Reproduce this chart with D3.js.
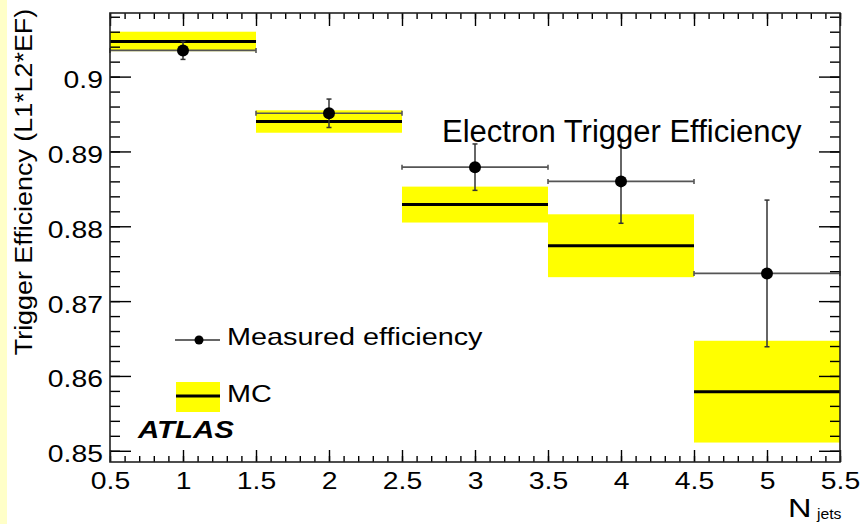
<!DOCTYPE html>
<html lang="en">
<head>
<meta charset="utf-8">
<title>Electron Trigger Efficiency</title>
<script src="https://d3js.org/d3.v7.min.js"></script>
<style type="text/css">
  html, body {
    margin: 0px;
    padding: 0px;
    background: #fff;
  }
  svg { display: block; }
  text {
    font-family: "Liberation Sans", Arial, sans-serif;
    fill: #000;
  }
</style>
</head>
<body>
<svg width="862" height="524"></svg>

<script type="text/javascript">
// data
const nJets = [1, 2, 3, 4, 5];
const measEff = [0.9035, 0.8951, 0.8879, 0.8860, 0.8737];
const measErr = [0.0012, 0.0019, 0.0031, 0.0056, 0.0098];
const mcEff = [0.9047, 0.8940, 0.8829, 0.8774, 0.8579];
const mcErr = [0.0013, 0.0015, 0.0024, 0.0042, 0.0068];
const binHalf = 0.5;

const xTicks = [0.5, 1, 1.5, 2, 2.5, 3, 3.5, 4, 4.5, 5, 5.5];
const xTickLabels = ["0.5", "1", "1.5", "2", "2.5", "3", "3.5", "4", "4.5", "5", "5.5"];
const yTicks = [0.85, 0.86, 0.87, 0.88, 0.89, 0.90];
const yTickLabels = ["0.85", "0.86", "0.87", "0.88", "0.89", "0.9"];

const points = nJets.map((n, i) => ({n: n, eff: measEff[i], err: measErr[i], mc: mcEff[i], mcErr: mcErr[i]}));

const svg = d3.select("svg");

// pale strip on the left edge
svg.append("rect").attr("x", 0).attr("y", 0).attr("width", 7).attr("height", 524).attr("fill", "#ffffc8");

const plotL = 110, plotR = 840, plotT = 13, plotB = 462;
const x = d3.scaleLinear().domain([0.5, 5.5]).range([plotL, plotR]);
const y = d3.scaleLinear().domain([0.8485, 0.9085]).range([plotB, plotT]);

// MC bands
svg.selectAll(".band")
   .data(points)
   .enter()
   .append("rect")
   .attr("class", "band")
   .attr("x", d => x(d.n - binHalf))
   .attr("width", d => x(d.n + binHalf) - x(d.n - binHalf))
   .attr("y", d => y(d.mc + d.mcErr))
   .attr("height", d => y(d.mc - d.mcErr) - y(d.mc + d.mcErr))
   .attr("fill", "#ffff00");

svg.selectAll(".mcline")
   .data(points)
   .enter()
   .append("line")
   .attr("x1", d => x(d.n - binHalf))
   .attr("x2", d => x(d.n + binHalf))
   .attr("y1", d => y(d.mc))
   .attr("y2", d => y(d.mc))
   .attr("stroke", "#000")
   .attr("stroke-width", 3);

// measured points with error bars
const pts = svg.selectAll(".pt")
   .data(points)
   .enter()
   .append("g")
   .attr("class", "pt");

pts.append("line")
   .attr("x1", d => x(d.n - binHalf)).attr("x2", d => x(d.n + binHalf))
   .attr("y1", d => y(d.eff)).attr("y2", d => y(d.eff))
   .attr("stroke", "#555").attr("stroke-width", 1.6);
pts.append("line")
   .attr("x1", d => x(d.n - binHalf)).attr("x2", d => x(d.n - binHalf))
   .attr("y1", d => y(d.eff) - 2.5).attr("y2", d => y(d.eff) + 2.5)
   .attr("stroke", "#555").attr("stroke-width", 1.6);
pts.append("line")
   .attr("x1", d => x(d.n + binHalf)).attr("x2", d => x(d.n + binHalf))
   .attr("y1", d => y(d.eff) - 2.5).attr("y2", d => y(d.eff) + 2.5)
   .attr("stroke", "#555").attr("stroke-width", 1.6);
pts.append("line")
   .attr("x1", d => x(d.n)).attr("x2", d => x(d.n))
   .attr("y1", d => y(d.eff + d.err)).attr("y2", d => y(d.eff - d.err))
   .attr("stroke", "#333").attr("stroke-width", 1.5);
pts.append("line")
   .attr("x1", d => x(d.n) - 2.5).attr("x2", d => x(d.n) + 2.5)
   .attr("y1", d => y(d.eff + d.err)).attr("y2", d => y(d.eff + d.err))
   .attr("stroke", "#333").attr("stroke-width", 1.5);
pts.append("line")
   .attr("x1", d => x(d.n) - 2.5).attr("x2", d => x(d.n) + 2.5)
   .attr("y1", d => y(d.eff - d.err)).attr("y2", d => y(d.eff - d.err))
   .attr("stroke", "#333").attr("stroke-width", 1.5);
pts.append("circle")
   .attr("cx", d => x(d.n))
   .attr("cy", d => y(d.eff))
   .attr("r", 6)
   .attr("fill", "#000");

// axes: ticks point inwards on all four sides
function styleAxis(g, k) {
  g.select(".domain").remove();
  g.selectAll(".tick line").attr("stroke", "#000").attr("stroke-width", 1.4);
  g.selectAll("text")
   .attr("font-size", 24)
   .attr("font-family", "'Liberation Sans', Arial, sans-serif")
   .attr("fill", "#000")
   .attr("transform", "scale(" + k + ",1)");
}

const xMinor = d3.range(0.5, 5.55, 0.1);
const yMinor = d3.range(0.85, 0.9085, 0.002);

svg.append("g").attr("transform", `translate(0,${plotB})`)
   .call(d3.axisBottom(x).tickValues(xMinor).tickSize(-6).tickFormat(""))
   .call(g => styleAxis(g, 1));
svg.append("g").attr("transform", `translate(0,${plotB})`)
   .call(d3.axisBottom(x).tickValues(xTicks).tickSize(-12).tickPadding(10).tickFormat((d, i) => xTickLabels[i]))
   .call(g => styleAxis(g, 1.18));
svg.append("g").attr("transform", `translate(0,${plotT})`)
   .call(d3.axisTop(x).tickValues(xMinor).tickSize(-6).tickFormat(""))
   .call(g => styleAxis(g, 1));
svg.append("g").attr("transform", `translate(0,${plotT})`)
   .call(d3.axisTop(x).tickValues(xTicks).tickSize(-13).tickFormat(""))
   .call(g => styleAxis(g, 1));

svg.append("g").attr("transform", `translate(${plotL},0)`)
   .call(d3.axisLeft(y).tickValues(yMinor).tickSize(-10).tickFormat(""))
   .call(g => styleAxis(g, 1));
svg.append("g").attr("transform", `translate(${plotL},0)`)
   .call(d3.axisLeft(y).tickValues(yTicks).tickSize(-21).tickPadding(6).tickFormat((d, i) => yTickLabels[i]))
   .call(g => styleAxis(g, 1.18))
   .selectAll("text").attr("dy", "0.46em");
svg.append("g").attr("transform", `translate(${plotR},0)`)
   .call(d3.axisRight(y).tickValues(yMinor).tickSize(-10).tickFormat(""))
   .call(g => styleAxis(g, 1));
svg.append("g").attr("transform", `translate(${plotR},0)`)
   .call(d3.axisRight(y).tickValues(yTicks).tickSize(-21).tickFormat(""))
   .call(g => styleAxis(g, 1));

// frame
svg.append("rect")
   .attr("x", plotL).attr("y", plotT)
   .attr("width", plotR - plotL).attr("height", plotB - plotT)
   .attr("fill", "none")
   .attr("stroke", "#222")
   .attr("stroke-width", 1.6);

// text that is slightly stretched sideways, like the original
function wideText(px, py, str, size, k, weight, style) {
  return svg.append("text")
     .attr("transform", `translate(${px},${py}) scale(${k},1)`)
     .attr("font-size", size)
     .attr("font-weight", weight || "normal")
     .attr("font-style", style || "normal")
     .text(str);
}

// y axis title
svg.append("text")
   .attr("transform", "translate(32,182) rotate(-90) scale(1.12,1)")
   .attr("text-anchor", "middle")
   .attr("font-size", 24)
   .text("Trigger Efficiency (L1*L2*EF)");

// x axis title
wideText(788, 517, "N", 26, 1.25);
wideText(817, 519, "jets", 15, 1.05);

// chart title
svg.append("text")
   .attr("x", 442)
   .attr("y", 142)
   .attr("font-size", 31)
   .text("Electron Trigger Efficiency");

// legend
svg.append("line").attr("x1", 175).attr("x2", 220).attr("y1", 340).attr("y2", 340)
   .attr("stroke", "#333").attr("stroke-width", 1.4);
svg.append("circle").attr("cx", 199).attr("cy", 340).attr("r", 4.5).attr("fill", "#000");
wideText(227, 345, "Measured efficiency", 24, 1.2);

svg.append("rect").attr("x", 176).attr("y", 382).attr("width", 44).attr("height", 30).attr("fill", "#ffff00");
svg.append("line").attr("x1", 176).attr("x2", 220).attr("y1", 396).attr("y2", 396)
   .attr("stroke", "#000").attr("stroke-width", 3);
wideText(227, 402, "MC", 24, 1.2);

wideText(138, 438, "ATLAS", 23, 1.28, "bold", "italic");
</script>
</body>
</html>
